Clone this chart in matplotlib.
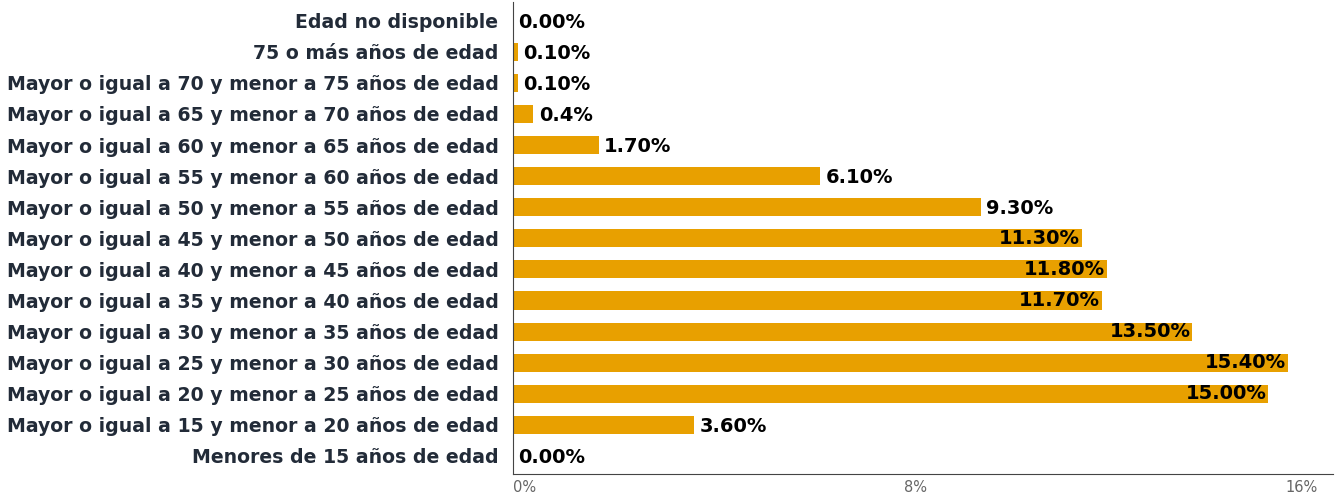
import matplotlib as mpl
mpl.use('Agg')
import matplotlib.pyplot as plt
import numpy as np

## data, bottom row first
categories = ['Menores de 15 años de edad',
              'Mayor o igual a 15 y menor a 20 años de edad',
              'Mayor o igual a 20 y menor a 25 años de edad',
              'Mayor o igual a 25 y menor a 30 años de edad',
              'Mayor o igual a 30 y menor a 35 años de edad',
              'Mayor o igual a 35 y menor a 40 años de edad',
              'Mayor o igual a 40 y menor a 45 años de edad',
              'Mayor o igual a 45 y menor a 50 años de edad',
              'Mayor o igual a 50 y menor a 55 años de edad',
              'Mayor o igual a 55 y menor a 60 años de edad',
              'Mayor o igual a 60 y menor a 65 años de edad',
              'Mayor o igual a 65 y menor a 70 años de edad',
              'Mayor o igual a 70 y menor a 75 años de edad',
              '75 o más años de edad',
              'Edad no disponible']
values = [0.0, 3.6, 15.0, 15.4, 13.5, 11.7, 11.8, 11.3, 9.3, 6.1, 1.7, 0.4, 0.1, 0.1, 0.0]
value_labels = ['0.00%', '3.60%', '15.00%', '15.40%', '13.50%', '11.70%', '11.80%', '11.30%',
                '9.30%', '6.10%', '1.70%', '0.4%', '0.10%', '0.10%', '0.00%']
xticks = [0, 8, 16]
xtick_labels = ['0%', '8%', '16%']

bar_color = '#E8A000'
label_color = '#222B38'

fig = plt.figure(figsize=(13.36, 4.95), dpi=100)
ax = fig.add_axes([0.384, 0.0424, 0.6138, 0.9536])

y = np.arange(len(categories))
ax.barh(y, values, height=0.58, color=bar_color)

ax.set_xlim(0, 16.3)
ax.set_ylim(-0.58, len(categories) - 0.4)

ax.set_yticks(y)
ax.set_yticklabels(categories, fontsize=13.6, fontweight='bold', color=label_color)
ax.tick_params(axis='y', length=0, pad=10.5)

ax.set_xticks(xticks)
ax.set_xticklabels(xtick_labels, fontsize=10.5, color='#666666')
ax.tick_params(axis='x', length=0, pad=4)
tl = ax.get_xticklabels()
tl[0].set_ha('left')
tl[-1].set_ha('right')

for s in ['top', 'right']:
    ax.spines[s].set_visible(False)
ax.spines['left'].set_color('#444444')
ax.spines['bottom'].set_color('#444444')

# value labels: inside bar end for big bars, else just after
for yi, v, lab in zip(y, values, value_labels):
    if v >= 10:
        ax.annotate(lab, (v, yi), xytext=(-1, 0), textcoords='offset points',
                    ha='right', va='center', fontsize=14, fontweight='bold', color='black')
    else:
        ax.annotate(lab, (v, yi), xytext=(4, -1), textcoords='offset points',
                    ha='left', va='center', fontsize=14, fontweight='bold', color='black')

plt.savefig('out.png', dpi=100)
